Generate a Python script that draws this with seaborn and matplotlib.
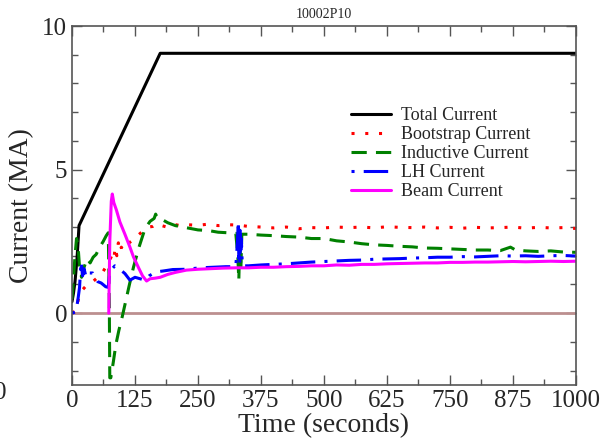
import matplotlib
matplotlib.use("Agg")
import matplotlib.pyplot as plt
import seaborn as sns
from matplotlib.ticker import MultipleLocator

# Current traces (time in s, current in MA)
t_total = [0, 3, 6, 10, 14, 175, 1000]
total = [0.4, 0.7, 1.1, 1.9, 3.05, 9.05, 9.05]

t_boot = [0, 8, 14, 20, 28, 38, 48, 58, 67, 75, 80, 83, 86, 89, 92, 95, 98, 101,
          108, 121, 138, 151, 160, 168, 178, 188, 200, 215, 230, 250, 270, 290,
          310, 330, 350, 375, 400, 425, 450, 475, 500, 525, 550, 575, 600, 625,
          650, 675, 700, 725, 750, 775, 800, 825, 850, 875, 900, 925, 950, 975, 1000]
boot = [0.0, 0.1, 0.6, 0.8, 0.95, 1.05, 1.2, 1.35, 1.6, 1.85, 2.05, 1.9, 2.3, 2.0,
        2.45, 2.15, 2.3, 2.2, 2.38, 2.55, 2.82, 3.0, 3.02, 3.12, 3.05, 3.0, 3.1,
        3.05, 3.08, 3.06, 3.1, 3.05, 3.08, 3.07, 3.02, 3.0, 2.97, 3.0, 2.94, 2.98,
        2.97, 3.0, 2.98, 3.0, 2.97, 3.01, 2.99, 2.98, 3.0, 2.97, 2.99, 2.96, 2.99,
        2.97, 2.98, 3.0, 2.96, 2.99, 2.97, 2.98, 2.95]

t_ind = [0, 3, 6, 9, 12, 15, 19, 24, 30, 36, 42, 48, 55, 62, 68, 72, 74, 75, 77,
         82, 87, 93, 100, 107, 114, 122, 133, 145, 155, 163, 166, 170, 180, 190,
         205, 220, 235, 250, 270, 290, 310, 325, 329, 331, 333, 335, 337, 350,
         375, 400, 425, 450, 475, 500, 525, 550, 575, 600, 625, 650, 675, 700,
         725, 750, 775, 800, 825, 850, 870, 880, 900, 925, 950, 975, 1000]
ind = [0.5, 1.2, 2.0, 2.6, 2.35, 1.6, 1.25, 1.6, 1.9, 1.75, 1.95, 2.05, 2.3, 2.5,
       2.7, 2.8, 0.5, -2.25, -2.25, -1.7, -1.1, -0.6, -0.1, 0.45, 1.0, 1.6, 2.3,
       2.95, 3.2, 3.3, 3.45, 3.3, 3.25, 3.15, 3.05, 3.0, 2.95, 2.9, 2.88, 2.82,
       2.8, 2.78, 2.0, 1.15, 2.6, 1.5, 2.75, 2.75, 2.72, 2.7, 2.67, 2.65, 2.6,
       2.6, 2.52, 2.48, 2.42, 2.38, 2.36, 2.33, 2.31, 2.27, 2.26, 2.24, 2.22,
       2.2, 2.2, 2.18, 2.3, 2.2, 2.17, 2.15, 2.17, 2.13, 2.12]

t_lh = [0, 8, 12, 15, 18, 21, 24, 28, 33, 41, 46, 51, 58, 67, 72, 75, 80, 85, 90,
        97, 105, 115, 125, 135, 145, 153, 161, 172, 181, 200, 227, 254, 280, 305,
        325, 328, 330, 331, 332, 333, 334, 335, 336, 338, 350, 375, 400, 425, 450,
        475, 500, 525, 550, 575, 600, 625, 650, 675, 700, 725, 750, 775, 800, 825,
        850, 875, 900, 925, 950, 975, 1000]
lh = [0.0, 0.05, 0.5, 0.9, 1.8, 1.3, 1.55, 1.25, 1.4, 1.4, 1.25, 1.1, 1.05, 0.92,
      0.9, 1.45, 1.55, 1.65, 1.6, 1.5, 1.38, 1.15, 1.25, 1.2, 1.15, 1.3, 1.38,
      1.45, 1.47, 1.52, 1.53, 1.58, 1.6, 1.62, 1.62, 2.4, 3.2, 1.9, 2.9, 1.75,
      3.0, 2.2, 2.6, 1.65, 1.65, 1.68, 1.7, 1.72, 1.75, 1.78, 1.8, 1.82, 1.84,
      1.85, 1.88, 1.89, 1.9, 1.92, 1.93, 1.95, 1.95, 1.97, 1.96, 1.98, 2.0, 1.99,
      2.0, 1.98, 2.0, 2.01, 1.99]

t_beam = [73, 75, 78, 80, 83, 88, 95, 105, 115, 122, 133, 140, 148, 155, 165, 175,
          190, 205, 227, 250, 275, 300, 325, 350, 375, 400, 425, 450, 475, 500,
          525, 550, 575, 600, 625, 650, 675, 700, 725, 750, 775, 800, 825, 850,
          875, 900, 925, 950, 975, 1000]
beam = [0.0, 2.5, 3.9, 4.15, 3.85, 3.6, 3.18, 2.75, 2.3, 1.96, 1.55, 1.3, 1.12,
        1.2, 1.22, 1.25, 1.35, 1.42, 1.5, 1.53, 1.55, 1.57, 1.58, 1.58, 1.6, 1.6,
        1.62, 1.63, 1.65, 1.65, 1.68, 1.67, 1.7, 1.7, 1.72, 1.73, 1.74, 1.75,
        1.75, 1.77, 1.77, 1.78, 1.78, 1.79, 1.8, 1.79, 1.8, 1.81, 1.8, 1.81]

sns.set_style("ticks")
plt.rcParams["font.family"] = ["Liberation Serif", "DejaVu Serif"]

fig = plt.figure(figsize=(6.09, 4.41), dpi=100)
ax = fig.add_axes([0.1182, 0.127, 0.8276, 0.814])

ax.axhline(0, color="#bc8f8f", lw=2, zorder=1.5)

kw = dict(ax=ax, estimator=None, sort=False, lw=2.2)
sns.lineplot(x=t_total, y=total, color="black", label="Total Current", **kw)
sns.lineplot(x=t_boot, y=boot, color="red", linestyle=(0, (1, 3.5)),
             label="Bootstrap Current", **kw)
sns.lineplot(x=t_ind, y=ind, color="green", linestyle=(0, (5, 3)),
             label="Inductive Current", **kw)
sns.lineplot(x=t_lh, y=lh, color="blue", linestyle=(0, (1, 3, 8, 3)),
             label="LH Current", **kw)
sns.lineplot(x=t_beam, y=beam, color="magenta", label="Beam Current", **kw)

ax.set_xlim(0, 1000)
ax.set_ylim(-2.5, 10)
ax.xaxis.set_major_locator(MultipleLocator(125))
ax.xaxis.set_minor_locator(MultipleLocator(62.5))
ax.yaxis.set_major_locator(MultipleLocator(5))
ax.yaxis.set_minor_locator(MultipleLocator(1))
ax.tick_params(which="both", direction="in", top=True, right=True,
               color="#555555", labelsize=18)
ax.tick_params(which="major", length=7, width=1)
ax.tick_params(which="minor", length=4, width=1)
for s in ax.spines.values():
    s.set_color("#555555")
    s.set_linewidth(1.2)

ax.set_xlabel("Time (seconds)", fontsize=20, labelpad=1)
ax.set_ylabel("Current (MA)", fontsize=20, labelpad=6)
ax.set_title("10002P10", fontsize=10, pad=6)

ax.legend(loc="upper left", bbox_to_anchor=(0.54, 0.795), frameon=False,
          fontsize=13, handlelength=2.2, labelspacing=0.12, handletextpad=0.55,
          borderaxespad=0)

# partly clipped glyph at the lower-left edge, as in the source image
fig.text(-0.01, 0.108, "0", fontsize=18, va="center")

fig.savefig("out.png", dpi=100)
